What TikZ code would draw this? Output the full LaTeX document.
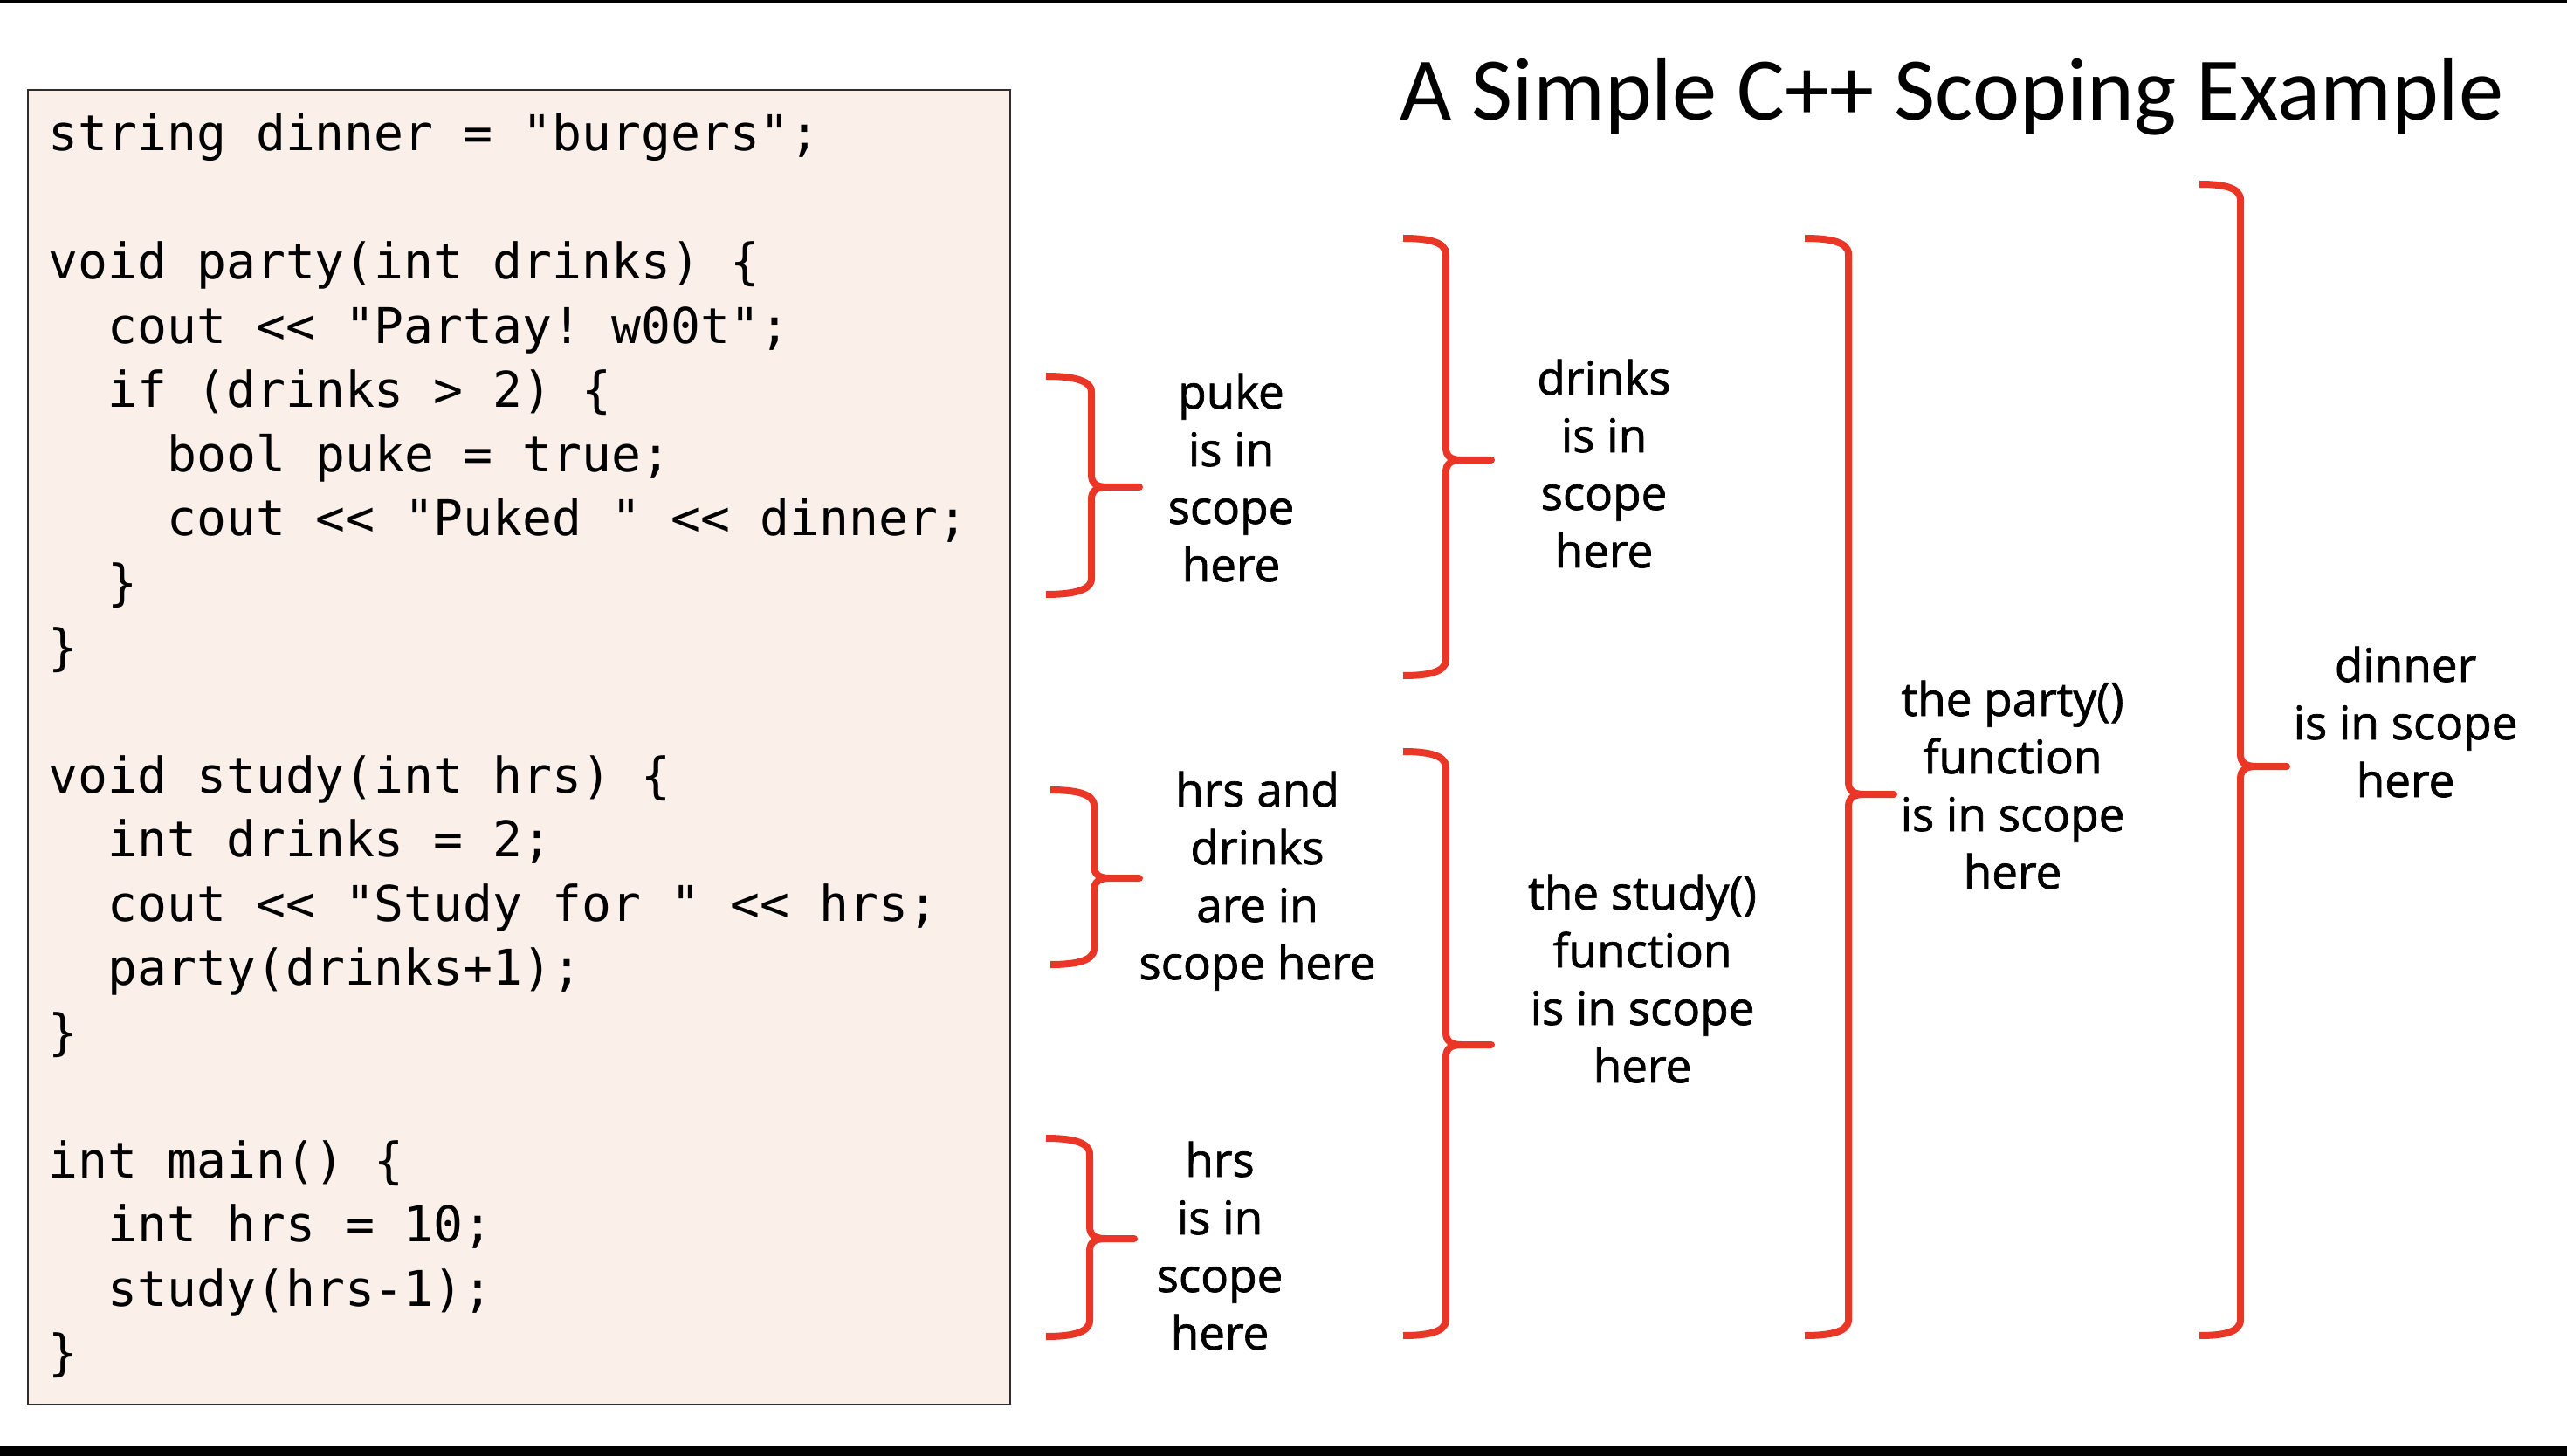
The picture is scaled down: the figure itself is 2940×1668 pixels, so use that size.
\documentclass[tikz,border=0pt]{standalone}
\usepackage{fontspec}
\setmainfont{Open Sans}
\setmonofont{DejaVu Sans Mono}
\newfontfamily\titlefont{Carlito}
\newfontfamily\notefont{Open Sans}[FakeBold=1.3]
\definecolor{codebg}{RGB}{250,239,233}
\definecolor{bracered}{RGB}{234,54,39}
\definecolor{boxline}{RGB}{45,45,45}
\frenchspacing
% #1 x of arm ends, #2 x of stem, #3 x of tip, #4 top y, #5 tip y, #6 bottom y
\newcommand\scopebrace[6]{%
  \draw[bracestyle] (#1,#4) .. controls ({#1+25},#4) and (#2,{#4+3}) .. (#2,{#4+18})
    -- (#2,{#5-14}) .. controls (#2,{#5-4}) and ({#2+6},#5) .. ({#2+18},#5) -- (#3,#5)
    -- ({#2+18},#5) .. controls ({#2+6},#5) and (#2,{#5+4}) .. (#2,{#5+14})
    -- (#2,{#6-18}) .. controls (#2,{#6-3}) and ({#1+25},#6) .. (#1,#6);}
\begin{document}
\begin{tikzpicture}[x=0.5pt,y=-0.5pt,
  bracestyle/.style={draw=bracered,line width=4pt,line cap=butt,line join=round},
  codeline/.style={anchor=base west,inner sep=0pt,font=\ttfamily\fontsize{28.2}{36}\selectfont},
  scopetext/.style={anchor=base,inner sep=0pt,align=center,font=\notefont\fontsize{26.5}{33}\selectfont},
  codebox/.style={draw=boxline,fill=codebg,line width=1.25pt}]
\useasboundingbox (0,0) rectangle (2940,1668);
\fill[black] (0,0) rectangle (2940,3);
\fill[black] (0,1657) rectangle (2940,1668);
% code box
\draw[codebox] (32,103) rectangle (1157,1609);
\node[codeline] (c1) at (55,173) {string dinner = "burgers";};
\node[codeline] (c3) at (55,320) {void party(int drinks) \{};
\node[codeline] (c4) at (123,393.5) {cout << "Partay! w00t";};
\node[codeline] (c5) at (123,467) {if (drinks > 2) \{};
\node[codeline] (c6) at (191,540.5) {bool puke = true;};
\node[codeline] (c7) at (191,614) {cout << "Puked " << dinner;};
\node[codeline] (c8) at (123,687.5) {\}};
\node[codeline] (c9) at (55,761) {\}};
\node[codeline] (c11) at (55,908) {void study(int hrs) \{};
\node[codeline] (c12) at (123,981.5) {int drinks = 2;};
\node[codeline] (c13) at (123,1055) {cout << "Study for " << hrs;};
\node[codeline] (c14) at (123,1128.5) {party(drinks+1);};
\node[codeline] (c15) at (55,1202) {\}};
\node[codeline] (c17) at (55,1349) {int main() \{};
\node[codeline] (c18) at (123,1422.5) {int hrs = 10;};
\node[codeline] (c19) at (123,1496) {study(hrs-1);};
\node[codeline] (c20) at (55,1569.5) {\}};
% title
\node[anchor=base west,inner sep=0pt,font=\titlefont\fontsize{51.2}{60}\selectfont] (title) at (1603,138) {A Simple C++ Scoping Example};
% braces
\scopebrace{1198}{1250}{1305}{431}{558}{681}
\scopebrace{1607}{1656}{1708}{273}{527}{774}
\scopebrace{1203}{1253}{1305}{905}{1006}{1105}
\scopebrace{1198}{1248}{1299}{1304}{1419}{1531}
\scopebrace{1607}{1656}{1708}{861}{1197}{1530}
\scopebrace{2067}{2117}{2169}{273}{910}{1530}
\scopebrace{2519}{2566}{2619}{211}{878}{1530}
% labels (anchor = baseline of last line)
\node[scopetext] (puke) at (1410,666) {puke\\is in\\scope\\here};
\node[scopetext] (drinks) at (1837,650) {drinks\\is in\\scope\\here};
\node[scopetext] (hrsdrinks) at (1440,1122) {hrs and\\drinks\\are in\\scope here};
\node[scopetext] (hrs) at (1397,1546) {hrs\\is in\\scope\\here};
\node[scopetext] (study) at (1881,1240) {the study()\\function\\is in scope\\here};
\node[scopetext] (party) at (2305,1018) {the party()\\function\\is in scope\\here};
\node[scopetext] (dinner) at (2755,913) {dinner\\is in scope\\here};
\end{tikzpicture}
\end{document}
